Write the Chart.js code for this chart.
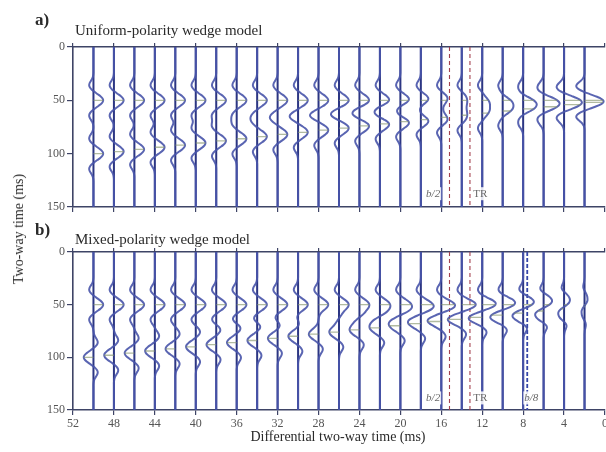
<!DOCTYPE html>
<html>
<head>
<meta charset="utf-8">
<script src="https://cdn.jsdelivr.net/npm/chart.js@4/dist/chart.umd.min.js"></script>
<style>
  html, body { margin: 0; padding: 0; background: #fff; }
  #wrap { position: relative; width: 606px; height: 452px; overflow: hidden; background: #fff;
          font-family: "Liberation Serif", "DejaVu Serif", serif; }
  .panel { position: absolute; left: 0; width: 640px; }
  .txt { position: absolute; white-space: nowrap; color: #2a2a2a; line-height: 1; }
</style>
</head>
<body>
<div id="wrap">
  <div class="panel" style="top:0;height:225px"><canvas id="panelA" width="640" height="225"></canvas></div>
  <div class="panel" style="top:225px;height:227px"><canvas id="panelB" width="640" height="227"></canvas></div>

  <div class="txt" style="left:35px;top:10.7px;font-size:17px;font-weight:bold;">a)</div>
  <div class="txt" style="left:75px;top:23.4px;font-size:15px;">Uniform-polarity wedge model</div>
  <div class="txt" style="left:35px;top:220.7px;font-size:17px;font-weight:bold;">b)</div>
  <div class="txt" style="left:75px;top:232.4px;font-size:15px;">Mixed-polarity wedge model</div>
  <div class="txt" style="left:338px;top:429.5px;font-size:14px;transform:translateX(-50%);">Differential two-way time (ms)</div>
  <div class="txt" style="left:19px;top:229px;font-size:14px;transform:translate(-50%,-50%) rotate(-90deg);">Two-way time (ms)</div>
</div>

<script>
// Wedge thickness of each trace, as differential two-way time (ms)
const traceTimes = [50, 48, 46, 44, 42, 40, 38, 36, 34, 32, 30, 28, 26, 24, 22, 20, 18, 16, 14, 12, 10, 8, 6, 4, 2];
// Two-way time of the wedge top (ms)
const topTime = 50;
// Zero-phase wavelet amplitude at lags 0, 2, 4, ... 24 ms (symmetric about zero)
const waveletAmp = [1.00, 0.92, 0.70, 0.40, 0.10, -0.17, -0.36, -0.44, -0.40, -0.28, -0.15, -0.06, -0.02];
// Reflection polarity of wedge top and wedge base
const uniformPolarity = [1, 1];
const mixedPolarity = [1, -1];
// Axis ticks
const xTickValues = [52, 48, 44, 40, 36, 32, 28, 24, 20, 16, 12, 8, 4, 0];
const yTickValues = [0, 50, 100, 150];
// Reference thicknesses marked with dashed lines (ms)
const halfBreadthTime = 15.2;
const tuningTime = 13.2;
const eighthBreadthTime = 7.6;
// Guide-line captions and where they sit (differential time, two-way time)
const guideLabelsA = [
  { text: 'b/2', at: 16.8, t: 138, italic: true },
  { text: 'TR', at: 12.2, t: 138, italic: false }
];
const guideLabelsB = [
  { text: 'b/2', at: 16.8, t: 139, italic: true },
  { text: 'TR', at: 12.2, t: 139, italic: false },
  { text: 'b/8', at: 7.2, t: 139, italic: true }
];

const SAMPLE_STEP = 2;     // ms
const TIME_MAX = 150;      // ms
const GAIN = 0.95;         // trace deflection (ms of x axis) per unit amplitude

const AXIS_COLOR = '#3e4466';
const TRACE_COLOR = '#2c3683';
const WIGGLE_COLOR = 'rgba(72, 84, 170, 0.9)';
const PICK_COLOR = 'rgba(135, 150, 110, 0.65)';
const GUIDE_RED = '#a4414f';
const GUIDE_BLUE = '#3545a8';
const SERIF = '"Liberation Serif", "DejaVu Serif", serif';

const timeSamples = [];
for (let t = 0; t <= TIME_MAX; t += SAMPLE_STEP) timeSamples.push(t);

function wavelet(lag) {
  const i = Math.abs(lag) / SAMPLE_STEP;
  return i < waveletAmp.length ? waveletAmp[i] : 0;
}

// Synthetic trace: top and base reflections convolved with the wavelet
function traceAmp(dt, polarity, t) {
  return polarity[0] * wavelet(t - topTime) + polarity[1] * wavelet(t - (topTime + dt));
}

function buildDatasets(polarity, guides) {
  const sets = [];
  // Trace baselines
  const base = [];
  traceTimes.forEach(dt => { base.push({ x: dt, y: 0 }, { x: dt, y: TIME_MAX }, { x: dt, y: null }); });
  sets.push({ data: base, borderColor: TRACE_COLOR, borderWidth: 2, order: 3 });
  // Wiggles
  traceTimes.forEach(dt => {
    sets.push({
      data: timeSamples.map(t => ({ x: dt - GAIN * traceAmp(dt, polarity, t), y: t })),
      borderColor: WIGGLE_COLOR, borderWidth: 2, tension: 0.35, order: 1
    });
  });
  // Reflection picks at top and base times
  const picks = [];
  traceTimes.forEach(dt => {
    [topTime, topTime + dt].forEach(t => {
      picks.push({ x: dt, y: t }, { x: dt - GAIN * traceAmp(dt, polarity, t), y: t }, { x: dt, y: null });
    });
  });
  sets.push({ data: picks, borderColor: PICK_COLOR, borderWidth: 1.3, order: 0 });
  // Dashed reference lines
  guides.forEach(g => {
    sets.push({
      data: [{ x: g.time, y: 0 }, { x: g.time, y: TIME_MAX }],
      borderColor: g.color, borderWidth: g.width, borderDash: g.dash, order: 2
    });
  });
  return sets;
}

const guideLabelPlugin = {
  id: 'guideLabels',
  afterDatasetsDraw(chart, args, opts) {
    const ctx = chart.ctx;
    const xs = chart.scales.x, ys = chart.scales.y;
    ctx.save();
    (opts.labels || []).forEach(l => {
      ctx.font = (l.italic ? 'italic ' : '') + '11px ' + SERIF;
      const px = xs.getPixelForValue(l.at);
      const py = ys.getPixelForValue(l.t);
      const w = ctx.measureText(l.text).width;
      ctx.fillStyle = 'rgba(255,255,255,0.85)';
      ctx.fillRect(px - w / 2 - 1, py - 7, w + 2, 13);
      ctx.fillStyle = '#6a6a6a';
      ctx.textAlign = 'center';
      ctx.textBaseline = 'middle';
      ctx.fillText(l.text, px, py);
    });
    ctx.restore();
  }
};

function setTicks(values) {
  return scale => { scale.ticks = values.map(v => ({ value: v })); };
}

function makeChart(canvasId, polarity, guides, labels, geom) {
  const gridStyle = (len) => ({ drawOnChartArea: false, drawTicks: true, tickLength: len, color: AXIS_COLOR, lineWidth: 1.2 });
  const borderStyle = { display: true, color: AXIS_COLOR, width: 1.6 };
  return new Chart(document.getElementById(canvasId), {
    type: 'scatter',
    data: { datasets: buildDatasets(polarity, guides) },
    options: {
      responsive: false,
      devicePixelRatio: 1,
      animation: false,
      layout: { padding: { left: 0, top: 0, right: 35, bottom: 0 } },
      showLine: true,
      elements: { point: { radius: 0, hoverRadius: 0 } },
      plugins: { legend: { display: false }, tooltip: { enabled: false }, guideLabels: { labels } },
      scales: {
        x: {
          type: 'linear', position: 'bottom', reverse: true, min: 0, max: 52,
          afterBuildTicks: setTicks(xTickValues),
          afterFit: s => { s.height = geom.bottomH; },
          grid: gridStyle(5), border: borderStyle,
          ticks: { display: geom.xLabels, autoSkip: false, maxRotation: 0, padding: 2,
                   color: '#555', font: { family: SERIF, size: 12 } }
        },
        xt: {
          type: 'linear', position: 'top', reverse: true, min: 0, max: 52,
          afterBuildTicks: setTicks(xTickValues),
          afterFit: s => { s.height = geom.topH; },
          grid: gridStyle(4), border: borderStyle,
          ticks: { display: false }
        },
        y: {
          type: 'linear', position: 'left', reverse: true, min: 0, max: TIME_MAX,
          afterBuildTicks: setTicks(yTickValues),
          afterFit: s => { s.width = 73; },
          grid: gridStyle(6), border: borderStyle,
          ticks: { padding: 2, color: '#555', font: { family: SERIF, size: 12 } }
        }
      }
    },
    plugins: [guideLabelPlugin]
  });
}

const guidesA = [
  { time: halfBreadthTime, color: GUIDE_RED, width: 1.1, dash: [4, 3] },
  { time: tuningTime, color: GUIDE_RED, width: 1.1, dash: [4, 3] }
];
const guidesB = guidesA.concat([{ time: eighthBreadthTime, color: GUIDE_BLUE, width: 1.8, dash: [4, 2] }]);

makeChart('panelA', uniformPolarity, guidesA, guideLabelsA, { topH: 47, bottomH: 18, xLabels: false });
makeChart('panelB', mixedPolarity, guidesB, guideLabelsB, { topH: 27, bottomH: 42, xLabels: true });
</script>
</body>
</html>
